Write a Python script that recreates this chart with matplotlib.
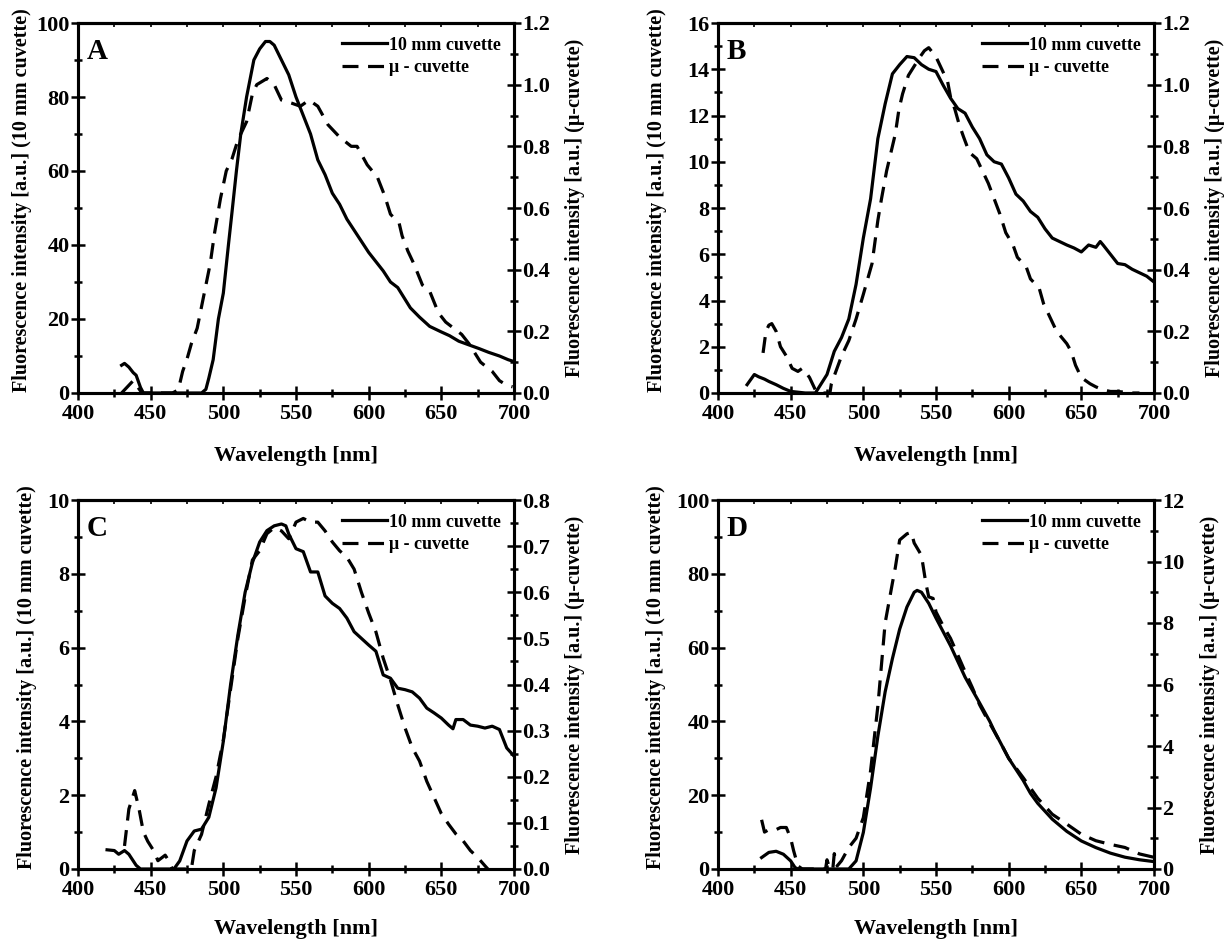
import matplotlib
matplotlib.use("Agg")
import matplotlib.pyplot as plt
from matplotlib.ticker import MultipleLocator, FormatStrFormatter

plt.rcParams["font.family"] = ["Liberation Serif", "DejaVu Serif"]
plt.rcParams["font.weight"] = "bold"

# --- data (nm, intensity) ---
# solid = 10 mm cuvette (left axis), dashed = micro cuvette (right axis)
a_wl_10 = [430, 432, 435, 438, 440, 443, 445, 485, 488, 490, 493, 496.6, 500, 503.5, 506,
           509, 512, 516, 519, 521, 525, 529, 532, 535, 540, 545, 550, 555, 560, 565, 570,
           575, 580, 585, 590, 595, 600, 605, 610, 615, 620, 628.7, 635, 642, 650, 655.6,
           662, 669, 676, 682.5, 690, 696, 700]
a_int_10 = [7.5, 8, 7, 5.5, 4.8, 1.5, 0, 0, 1, 4, 9, 20, 27, 40, 49, 60, 70, 80, 86, 90, 93,
            95, 95, 94, 90, 86, 80, 75, 70, 63, 59, 54, 51, 47, 44, 41, 38, 35.5, 33, 30, 28.5,
            23, 20.5, 18, 16.5, 15.5, 14, 13, 12, 11, 10, 9, 8.5]
a_wl_mu = [430, 434, 438, 441, 444, 465, 469, 472, 475, 478, 482, 485, 491, 494, 498, 502,
           506, 510, 516, 520, 523, 530, 535, 540, 547, 553, 559, 565, 572, 580, 588, 592,
           599, 606, 611, 615, 621, 623, 627, 631, 637, 642, 648, 653, 664, 669, 677, 685,
           690, 695, 699]
a_int_mu = [0.0, 0.02, 0.04, 0.02, 0.0, 0.0, 0.01, 0.07, 0.11, 0.16, 0.21, 0.28, 0.42, 0.52,
            0.63, 0.72, 0.76, 0.82, 0.88, 0.97, 1.0, 1.02, 1.0, 0.95, 0.94, 0.93, 0.95, 0.93,
            0.87, 0.83, 0.8, 0.8, 0.74, 0.7, 0.64, 0.58, 0.55, 0.51, 0.46, 0.42, 0.35, 0.33,
            0.26, 0.23, 0.19, 0.16, 0.1, 0.07, 0.04, 0.025, 0.02]

b_wl_10 = [420, 425, 428, 432, 435, 440, 445, 450, 460, 467, 470, 475, 480, 485, 490, 495,
           500, 505, 510, 515, 520, 525, 530, 535, 540, 545, 550, 555, 560, 565, 570, 575,
           580, 585, 590, 595, 600, 605, 610, 615, 620, 625, 630, 635, 640, 645, 650, 655,
           660, 663, 665, 670, 675, 680, 685, 690, 695, 700]
b_int_10 = [0.36, 0.8, 0.7, 0.6, 0.5, 0.36, 0.2, 0.07, 0, 0, 0.3, 0.8, 1.8, 2.4, 3.2, 4.7,
            6.7, 8.4, 11, 12.5, 13.8, 14.2, 14.55, 14.5, 14.2, 14.0, 13.9, 13.3, 12.75, 12.3,
            12.1, 11.5, 11, 10.3, 10.0, 9.9, 9.3, 8.6, 8.3, 7.85, 7.6, 7.1, 6.7, 6.55, 6.4,
            6.27, 6.1, 6.4, 6.3, 6.55, 6.4, 6.0, 5.6, 5.55, 5.35, 5.2, 5.05, 4.8]
b_wl_mu = [431, 433, 435, 437, 440, 443, 447, 451, 455, 458, 460, 463, 467, 470, 477, 478,
           485, 490, 495, 500, 506, 510, 512.5, 516, 520, 522, 524.5, 527, 531, 535, 539, 542,
           545, 550, 555, 558, 560, 563, 566, 569, 573, 578, 582, 586, 590, 594, 598, 603,
           606, 612, 615, 621, 624, 630, 633, 640, 643, 646, 650, 656, 660, 665, 670, 675,
           685, 690]
b_int_mu = [0.13, 0.2, 0.22, 0.225, 0.2, 0.15, 0.12, 0.08, 0.07, 0.08, 0.07, 0.05, 0.01, 0.0,
            0.0, 0.03, 0.12, 0.17, 0.24, 0.32, 0.42, 0.56, 0.63, 0.72, 0.8, 0.84, 0.92, 0.97,
            1.03, 1.06, 1.09, 1.11, 1.12, 1.09, 1.04, 1.01, 0.96, 0.92, 0.87, 0.83, 0.78, 0.76,
            0.72, 0.68, 0.63, 0.58, 0.52, 0.48, 0.44, 0.41, 0.37, 0.34, 0.29, 0.23, 0.2, 0.16,
            0.135, 0.09, 0.05, 0.03, 0.02, 0.01, 0.005, 0.005, 0.0, 0.0]

c_wl_10 = [420, 425, 428, 432, 435, 438, 440, 443, 466, 470, 475, 480, 485, 490, 495, 500,
           505, 510, 515, 520, 525, 530, 535, 540, 543, 545, 550, 555, 560, 565, 570, 575,
           580, 585, 590, 595, 600, 605, 610, 615, 620, 625, 630, 635, 640, 645, 650, 655,
           658, 660, 665, 670, 675, 680, 685, 690, 695, 700]
c_int_10 = [0.52, 0.5, 0.4, 0.5, 0.4, 0.22, 0.1, 0, 0, 0.22, 0.76, 1.03, 1.08, 1.4, 2.2, 3.46,
            5.0, 6.34, 7.5, 8.3, 8.86, 9.17, 9.3, 9.35, 9.3, 9.08, 8.68, 8.6, 8.05, 8.05, 7.4,
            7.2, 7.06, 6.8, 6.43, 6.25, 6.07, 5.9, 5.26, 5.17, 4.9, 4.86, 4.8, 4.63, 4.36,
            4.23, 4.09, 3.9, 3.8, 4.05, 4.05, 3.9, 3.87, 3.82, 3.87, 3.78, 3.28, 3.06]
c_wl_mu = [432, 435, 439, 442, 445, 448, 452, 455, 460, 462, 465, 478, 480, 485, 490, 495,
           500, 505, 510, 515, 520, 525, 530, 535, 540, 545, 548, 550, 555, 560, 565, 570,
           575, 580, 585, 590, 595, 600, 605, 610, 615, 620, 625, 630, 635, 640, 645, 650,
           655, 660, 665, 670, 675, 680, 682]
c_int_mu = [0.05, 0.13, 0.17, 0.13, 0.08, 0.06, 0.04, 0.018, 0.03, 0.02, 0.0, 0.0, 0.04,
            0.075, 0.14, 0.2, 0.28, 0.39, 0.5, 0.59, 0.67, 0.69, 0.727, 0.74, 0.733, 0.716,
            0.737, 0.752, 0.76, 0.752, 0.752, 0.733, 0.709, 0.69, 0.676, 0.65, 0.6, 0.555,
            0.514, 0.457, 0.41, 0.356, 0.306, 0.263, 0.234, 0.19, 0.155, 0.12, 0.097, 0.076,
            0.061, 0.04, 0.025, 0.007, 0.0]

d_wl_10 = [430, 435, 440, 445, 450, 453, 455, 490, 495, 500, 505, 510, 515, 520, 525, 530,
           535, 537, 540, 545, 550, 560, 570, 580, 587, 590, 600, 610, 615, 620, 630, 640,
           650, 660, 670, 680, 690, 700]
d_int_10 = [3.1, 4.5, 4.8, 4, 2.2, 0.4, 0, 0, 2.2, 9.9, 22, 36, 48, 57, 65, 71, 75, 75.5, 75,
            72, 68, 60.5, 52, 45, 40, 37.5, 30, 24, 20.5, 17.8, 13.5, 10.2, 7.6, 5.8, 4.3,
            3.2, 2.5, 2]
d_wl_mu = [430, 432, 435, 440, 443, 447, 450, 452, 455, 458, 474, 475, 477, 479, 480, 482,
           485, 490, 495, 500, 505, 510, 515, 520, 522, 525, 530, 533, 535, 540, 543, 545,
           548, 550, 555, 560, 565, 570, 575, 580, 585, 590, 595, 600, 610, 620, 630, 640,
           650, 660, 670, 680, 690, 700]
d_int_mu = [1.6, 1.2, 1.28, 1.28, 1.35, 1.35, 1.0, 0.6, 0.1, 0.0, 0.0, 0.3, 0.0, 0.0, 0.5,
            0.1, 0.27, 0.7, 1.0, 1.67, 3.2, 5.3, 8.0, 9.3, 9.8, 10.7, 10.9, 10.95, 10.6, 10.2,
            9.3, 8.85, 8.8, 8.36, 7.9, 7.5, 6.96, 6.42, 5.9, 5.34, 4.9, 4.48, 4.05, 3.6, 2.97,
            2.3, 1.78, 1.46, 1.13, 0.92, 0.8, 0.7, 0.49, 0.38]

panels = [
    # letter, solid, dashed, left (max, major), right (max, major, fmt)
    ("A", (a_wl_10, a_int_10), (a_wl_mu, a_int_mu), (100, 20), (1.2, 0.2, "%.1f")),
    ("B", (b_wl_10, b_int_10), (b_wl_mu, b_int_mu), (16, 2), (1.2, 0.2, "%.1f")),
    ("C", (c_wl_10, c_int_10), (c_wl_mu, c_int_mu), (10, 2), (0.8, 0.1, "%.1f")),
    ("D", (d_wl_10, d_int_10), (d_wl_mu, d_int_mu), (100, 20), (12, 2, "%d")),
]
# layout: axes rect, y-label x positions (left, right), x-label y position
rects = [
    (78 / 1224, 1 - 393 / 944, 436 / 1224, 370 / 944),
    (718 / 1224, 1 - 393 / 944, 436 / 1224, 370 / 944),
    (78 / 1224, 1 - 869 / 944, 436 / 1224, 369 / 944),
    (718 / 1224, 1 - 869 / 944, 436 / 1224, 369 / 944),
]
label_pos = [(-0.106, 1.117, -0.143), (-0.117, 1.118, -0.143),
             (-0.094, 1.117, -0.135), (-0.12, 1.105, -0.135)]

fig = plt.figure(figsize=(12.24, 9.44), dpi=100)

LW = 2.3
DASH = (5, 3)

for (letter, solid, dashed, left, right), rect, (lx, rx, xy) in zip(panels, rects, label_pos):
    ax = fig.add_axes(rect)
    ax2 = ax.twinx()

    l1, = ax.plot(solid[0], solid[1], color="black", lw=LW)
    l2, = ax2.plot(dashed[0], dashed[1], color="black", lw=LW, ls=(0, DASH))

    ax.set_xlim(400, 700)
    ax.set_ylim(0, left[0])
    ax2.set_ylim(0, right[0])

    ax.xaxis.set_major_locator(MultipleLocator(50))
    ax.xaxis.set_minor_locator(MultipleLocator(25))
    ax.yaxis.set_major_locator(MultipleLocator(left[1]))
    ax.yaxis.set_minor_locator(MultipleLocator(left[1] / 2))
    ax2.yaxis.set_major_locator(MultipleLocator(right[1]))
    ax2.yaxis.set_minor_locator(MultipleLocator(right[1] / 2))
    ax2.yaxis.set_major_formatter(FormatStrFormatter(right[2]))

    for a in (ax, ax2):
        a.tick_params(which="major", length=10, direction="inout", width=1.8,
                      labelsize=16, pad=1)
        a.tick_params(which="minor", length=6, direction="inout", width=1.8)
        for sp in a.spines.values():
            sp.set_linewidth(2.2)
    ax.tick_params(axis="y", which="both", right=False)
    ax.tick_params(axis="x", which="major", pad=3)

    top = ax.secondary_xaxis("top")
    top.xaxis.set_major_locator(MultipleLocator(25))
    top.tick_params(direction="in", length=3, width=1.2, labeltop=False)
    top.spines["top"].set_linewidth(2.2)

    ax.set_xlabel("Wavelength [nm]", fontsize=16, fontweight="bold")
    ax.xaxis.set_label_coords(0.5, xy)
    ax.xaxis.label.set_va("top")
    ax.set_ylabel("Fluorescence intensity [a.u.] (10 mm cuvette)", fontsize=14.5, fontweight="bold")
    ax.yaxis.set_label_coords(lx, 0.52)
    ax2.set_ylabel("Fluorescence intensity [a.u.] (\u03bc-cuvette)", fontsize=14.5, fontweight="bold")
    ax2.yaxis.set_label_coords(rx, 0.5)

    ax.text(0.02, 0.96, letter, transform=ax.transAxes, fontsize=21, fontweight="bold",
            va="top", ha="left")

    ax2.legend([l1, l2], ["10 mm cuvette", "\u03bc - cuvette"], loc="upper right",
               frameon=False, handlelength=2.5, handletextpad=0.1,
               labelspacing=0.3, borderaxespad=0.35, prop={"weight": "bold", "size": 13})

fig.savefig("out.png", dpi=100)
